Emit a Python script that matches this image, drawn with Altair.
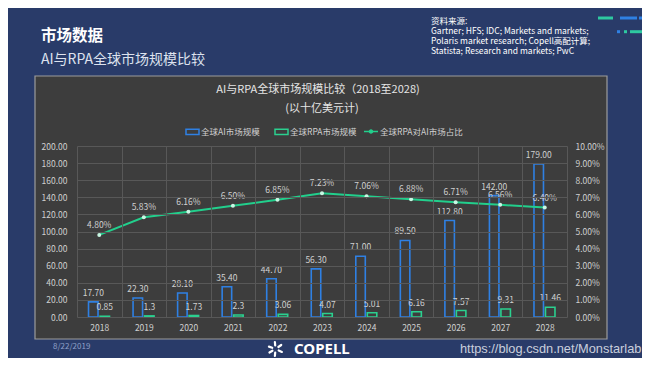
import math
import altair as alt
import pandas as pd

# ---------------- data ----------------
years = ["2018", "2019", "2020", "2021", "2022", "2023", "2024", "2025", "2026", "2027", "2028"]
ai_market = [17.70, 22.30, 28.10, 35.40, 44.70, 56.30, 71.00, 89.50, 112.80, 142.00, 179.00]
rpa_market = [0.85, 1.30, 1.73, 2.30, 3.06, 4.07, 5.01, 6.16, 7.57, 9.31, 11.46]
rpa_labels = ["0.85", "1.3", "1.73", "2.3", "3.06", "4.07", "5.01", "6.16", "7.57", "9.31", "11.46"]
rpa_share = [0.0480, 0.0583, 0.0616, 0.0650, 0.0685, 0.0723, 0.0706, 0.0688, 0.0671, 0.0656, 0.0640]
left_ticks = [0, 20, 40, 60, 80, 100, 120, 140, 160, 180, 200]
right_ticks = [0, 0.01, 0.02, 0.03, 0.04, 0.05, 0.06, 0.07, 0.08, 0.09, 0.10]
series_names = ["全球AI市场规模", "全球RPA市场规模"]
line_name = "全球RPA对AI市场占比"

df = pd.DataFrame({"year": years, "ai": ai_market, "rpa": rpa_market,
                   "rpa_label": rpa_labels, "share": rpa_share,
                   "s_ai": [series_names[0]] * len(years),
                   "s_rpa": [series_names[1]] * len(years),
                   "s_line": [line_name] * len(years)})
one = pd.DataFrame({"k": [0]})

# ---------------- style ----------------
FONT = "Noto Sans CJK SC"
NAVY = "#293b69"
PANEL = "#3d3d3d"
GRID = "#585858"
LABEL = "#d0d0d0"
BLUE = "#2f80e3"
GREEN = "#2bd08f"
LINEG = "#22cf8c"

OX, OY = 77, 146  # plot origin (page coords)


def X(p):
    return p - OX


def Y(p):
    return p - OY


def txt(text, x, y, size, color, weight="normal", align="left", font=FONT,
        baseline="middle", lh=None):
    kw = dict(align=align, baseline=baseline, fontSize=size, color=color,
              font=font, fontWeight=weight)
    if lh:
        kw["lineHeight"] = lh
    return alt.Chart(one).mark_text(**kw).encode(
        x=alt.value(X(x)), y=alt.value(Y(y)), text=alt.value(text))


def seg(x1, y1, x2, y2, color, w=3, cap="butt"):
    return alt.Chart(one).mark_rule(color=color, strokeWidth=w, strokeCap=cap).encode(
        x=alt.value(X(x1)), x2=alt.value(X(x2)), y=alt.value(Y(y1)), y2=alt.value(Y(y2)))


# ---------------- decorations ----------------
panel = alt.Chart(one).mark_rect(fill=PANEL, stroke="#9c9c9c", strokeWidth=1.2).encode(
    x=alt.value(X(35)), x2=alt.value(X(607)), y=alt.value(Y(76)), y2=alt.value(Y(339)))

deco = [
    txt("市场数据", 41, 36, 15.5, "#ffffff", weight="bold"),
    txt("AI与RPA全球市场规模比较", 41, 60, 14, "#dde2ee"),
    txt(["资料来源:", "Gartner; HFS; IDC; Markets and markets;",
         "Polaris market research; Copell高配计算;",
         "Statista; Research and markets; PwC"], 431, 16.5, 8.5, "#ffffff",
        baseline="top", lh=10.3),
    seg(604, 5.7, 607, 5.7, BLUE), seg(610, 5.7, 625, 5.7, BLUE), seg(632, 5.7, 646, 5.7, "#2ec9a0"),
    seg(598, 18, 613, 18, "#2ec9a0"), seg(620, 18, 637, 18, BLUE), seg(639, 18, 642, 18, BLUE),
    seg(617, 31.7, 620, 31.7, BLUE), seg(624, 31.7, 627, 31.7, "#2ec9a0"), seg(630, 31.7, 646, 31.7, "#2ec9a0"),
    txt("AI与RPA全球市场规模比较（2018至2028)", 318, 90, 11, "#e6e6e6", align="center"),
    txt("(以十亿美元计)", 322, 109, 11, "#e6e6e6", align="center"),
    txt("8/22/2019", 53, 346.7, 8, "#8fa0c8"),
    txt("COPELL", 294, 348.5, 15, "#ffffff", weight="bold", font="Noto Sans"),
    txt("https://blog.csdn.net/Monstarlab", 460, 349, 12.8, "#c9cfdc", font="Liberation Sans"),
]
cx, cy = 275.5, 349
for ang in [95, 35, -25, -95, -150, 160]:
    a = math.radians(ang)
    deco.append(seg(cx + 3.5 * math.cos(a), cy - 3.5 * math.sin(a),
                    cx + 7.0 * math.cos(a), cy - 7.0 * math.sin(a), "#ffffff", w=2.2, cap="round"))

# ---------------- encodings ----------------
x_enc = alt.X("year:N", sort=years, scale=alt.Scale(paddingInner=0, paddingOuter=0),
              axis=alt.Axis(title=None, orient="bottom", labelAngle=0, domain=False, ticks=False,
                            labelPadding=6, labelColor=LABEL, labelFontSize=8.5, labelFont=FONT,
                            grid=True, gridColor=GRID, gridWidth=1, tickBand="extent", zindex=1))

left_scale = alt.Scale(domain=[0, 200], nice=False)
left_axis = alt.Axis(title=None, orient="left", values=left_ticks, format=".2f", domain=False,
                     ticks=False, labelPadding=10, labelColor=LABEL, labelFontSize=8.5,
                     labelFont=FONT, grid=True, gridColor=GRID, gridWidth=1, zindex=1)
right_scale = alt.Scale(domain=[0, 0.10], nice=False)
right_axis = alt.Axis(title=None, orient="right", values=right_ticks, format=".2%", domain=False,
                      ticks=False, labelPadding=8, labelColor=LABEL, labelFontSize=8.5,
                      labelFont=FONT, grid=False, zindex=1)

stroke_scale = alt.Scale(domain=series_names, range=[BLUE, GREEN])
bar_legend = alt.Legend(title=None, orient="none", legendX=X(185), legendY=Y(130.5) - 6.5,
                        direction="horizontal", symbolType="M-1,-0.42H1V0.42H-1Z",
                        symbolSize=169, symbolStrokeWidth=1.5, symbolFillColor="transparent",
                        labelColor=LABEL, labelFontSize=8.5, labelFont=FONT, labelOffset=1,
                        columnPadding=12, padding=0)
line_legend = alt.Legend(title=None, orient="none", legendX=X(363), legendY=Y(130.5) - 7,
                         direction="horizontal",
                         symbolType="M-1,0H1M0.22,0A0.22,0.22 0 1,1 -0.22,0A0.22,0.22 0 1,1 0.22,0Z",
                         symbolSize=196, symbolStrokeWidth=1.5, symbolFillColor="#c9f7e3",
                         labelColor=LABEL, labelFontSize=8.5, labelFont=FONT, labelOffset=1,
                         padding=0)

base = alt.Chart(df)

bar_ai = base.mark_bar(width=9.5, xOffset=-6, fill=PANEL, strokeWidth=1.6).encode(
    x=x_enc, y=alt.Y("ai:Q", scale=left_scale, axis=left_axis),
    stroke=alt.Stroke("s_ai:N", scale=stroke_scale, legend=bar_legend))
bar_rpa = base.mark_bar(width=9.5, xOffset=5.5, fill=PANEL, strokeWidth=1.6).encode(
    x=x_enc, y=alt.Y("rpa:Q", scale=left_scale, axis=left_axis),
    stroke=alt.Stroke("s_rpa:N", scale=stroke_scale, legend=bar_legend))
lab_ai = base.mark_text(xOffset=-6, dy=-4, baseline="bottom", fontSize=8.5, color=LABEL,
                        font=FONT).encode(
    x=x_enc, y=alt.Y("ai:Q", scale=left_scale, axis=left_axis),
    text=alt.Text("ai:Q", format=".2f"))
lab_rpa = base.mark_text(xOffset=5.5, dy=-4, baseline="bottom", fontSize=8.5, color=LABEL,
                         font=FONT).encode(
    x=x_enc, y=alt.Y("rpa:Q", scale=left_scale, axis=left_axis),
    text=alt.Text("rpa_label:N"))
left_group = alt.layer(bar_ai, bar_rpa, lab_ai, lab_rpa)

line = base.mark_line(strokeWidth=2).encode(
    x=x_enc, y=alt.Y("share:Q", scale=right_scale, axis=right_axis),
    color=alt.Color("s_line:N", scale=alt.Scale(domain=[line_name], range=[LINEG]),
                    legend=line_legend))
pts = base.mark_circle(size=16, color="#c9f7e3", opacity=1).encode(
    x=x_enc, y=alt.Y("share:Q", scale=right_scale, axis=right_axis))
lab_line = base.mark_text(dy=-5, baseline="bottom", fontSize=8.5, color=LABEL, font=FONT).encode(
    x=x_enc, y=alt.Y("share:Q", scale=right_scale, axis=right_axis),
    text=alt.Text("share:Q", format=".2%"))
right_group = alt.layer(line, pts, lab_line)

chart = alt.layer(panel, *deco, left_group, right_group).resolve_scale(
    y="independent"
).properties(
    width=490, height=171,
    padding={"left": 69, "top": 138, "right": 75, "bottom": 41},
    autosize=alt.AutoSizeParams(type="none"),
).configure(background=NAVY).configure_view(stroke="transparent")

chart.save("out.html", embed_options={"renderer": "svg", "actions": False})
